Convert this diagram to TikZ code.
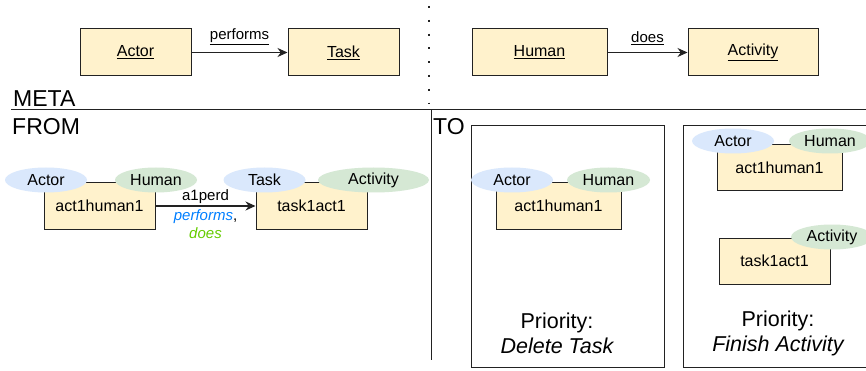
\documentclass[tikz,border=0pt]{standalone}
\usepackage{fontspec}
\setmainfont{Liberation Sans}
\usetikzlibrary{shapes.geometric,arrows.meta}
\definecolor{boxfill}{HTML}{FFF2CC}
\definecolor{blueell}{HTML}{DAE8FC}
\definecolor{greenell}{HTML}{D5E8D4}
\definecolor{bluetxt}{HTML}{007FFF}
\definecolor{greentxt}{HTML}{66CC00}
\definecolor{linec}{HTML}{222222}
\tikzset{
  umlbox/.style={draw=linec, fill=boxfill, line width=1pt, inner sep=0pt, minimum height=47pt, font=\fontsize{16}{19}\selectfont},
  objbox/.style={draw=linec, fill=boxfill, line width=1pt, inner sep=0pt, minimum height=46pt, font=\fontsize{16}{19}\selectfont},
  bell/.style={ellipse, fill=blueell, inner sep=0pt, minimum width=82pt, minimum height=25pt, font=\fontsize{16}{19}\selectfont},
  gell/.style={ellipse, fill=greenell, inner sep=0pt, minimum width=82pt, minimum height=25pt, font=\fontsize{16}{19}\selectfont},
  conn/.style={draw=linec, line width=1.2pt, -{Stealth[length=10pt,width=9pt]}},
  lbl/.style={font=\fontsize{15}{17}\selectfont, inner sep=1pt},
  big/.style={font=\fontsize{23}{26}\selectfont, inner sep=0pt},
  prio/.style={font=\fontsize{21.5}{25}\selectfont, align=center, inner sep=0pt},
  frame/.style={draw=linec, line width=1pt},
}
\begin{document}
\begin{tikzpicture}[x=1pt,y=-1pt]
\useasboundingbox (0,0) rectangle (866,371);
\clip (0,0) rectangle (866,371);
\fill[white] (0,0) rectangle (866,371);
% META
\node[umlbox, minimum width=111pt] (actor) at (135.5,52.5) {\underline{Actor}};
\node[umlbox, minimum width=111pt] (task) at (343.5,52.5) {\underline{Task}};
\draw[conn] (actor) -- node[lbl, above=6pt] {\underline{performs}} (task);
\node[umlbox, minimum width=135pt] (human) at (539.5,52.5) {\underline{Human}};
\node[umlbox, minimum width=130pt] (activity) at (753,52.5) {\underline{Activity}};
\draw[conn] (human) -- node[lbl, above=6pt] {\underline{does}} (activity);
% separators
\coordinate (dtop) at (429,6);
\coordinate (dbot) at (429,104);
\draw[linec, line width=2pt, dash pattern=on 2pt off 11.8pt] (dtop) -- (dbot);
\coordinate (hl) at (11,110);
\coordinate (hr) at (866,110);
\draw[linec, line width=1pt] (hl) -- (hr);
\coordinate (vt) at (431,110);
\coordinate (vb) at (431,360);
\draw[linec, line width=1pt] (vt) -- (vb);
\node[big, anchor=base west] (meta) at (13,107) {META};
\node[big, anchor=base west] (from) at (12,135) {FROM};
\node[big, anchor=base west] (to) at (433,135) {TO};
% FROM
\node[objbox, minimum width=111pt] (ah1) at (99.5,206) {act1human1};
\node[bell] (fa) at (46,180) {Actor};
\node[gell] (fh) at (156,180) {Human};
\node[objbox, minimum width=111pt] (ta1) at (311.5,206) {task1act1};
\node[bell] (ft) at (264.5,180) {Task};
\node[gell, minimum width=111pt] (fact) at (373.5,180) {Activity};
\draw[conn] (ah1) -- node[lbl, above=1pt] {a1perd} node[lbl, below=2pt, align=center] {\textcolor{bluetxt}{\itshape performs},\\[1pt]\textcolor{greentxt}{\itshape does}} (ta1);
% TO box 1
\node[frame, minimum width=193pt, minimum height=241pt, inner sep=0pt] (b1) at (567.5,246.5) {};
\node[objbox, minimum width=125pt] (ah2) at (558.5,206) {act1human1};
\node[bell] (ta) at (512,180) {Actor};
\node[gell, minimum width=83pt] (th) at (608.5,180) {Human};
\node[prio] (p1) at (557,333) {Priority:\\\itshape Delete Task};
% TO box 2
\node[frame, minimum width=190pt, minimum height=241pt, inner sep=0pt] (b2) at (778,246.5) {};
\node[objbox, minimum width=125pt] (ah3) at (779.5,168) {act1human1};
\node[bell] (ta2) at (733,141) {Actor};
\node[gell] (th2) at (830,141) {Human};
\node[objbox, minimum width=111pt] (ta3) at (774.5,261) {task1act1};
\node[gell] (tact) at (832,237) {Activity};
\node[prio] (p2) at (778,333) {Priority:\\\itshape Finish Activity};
\end{tikzpicture}
\end{document}
